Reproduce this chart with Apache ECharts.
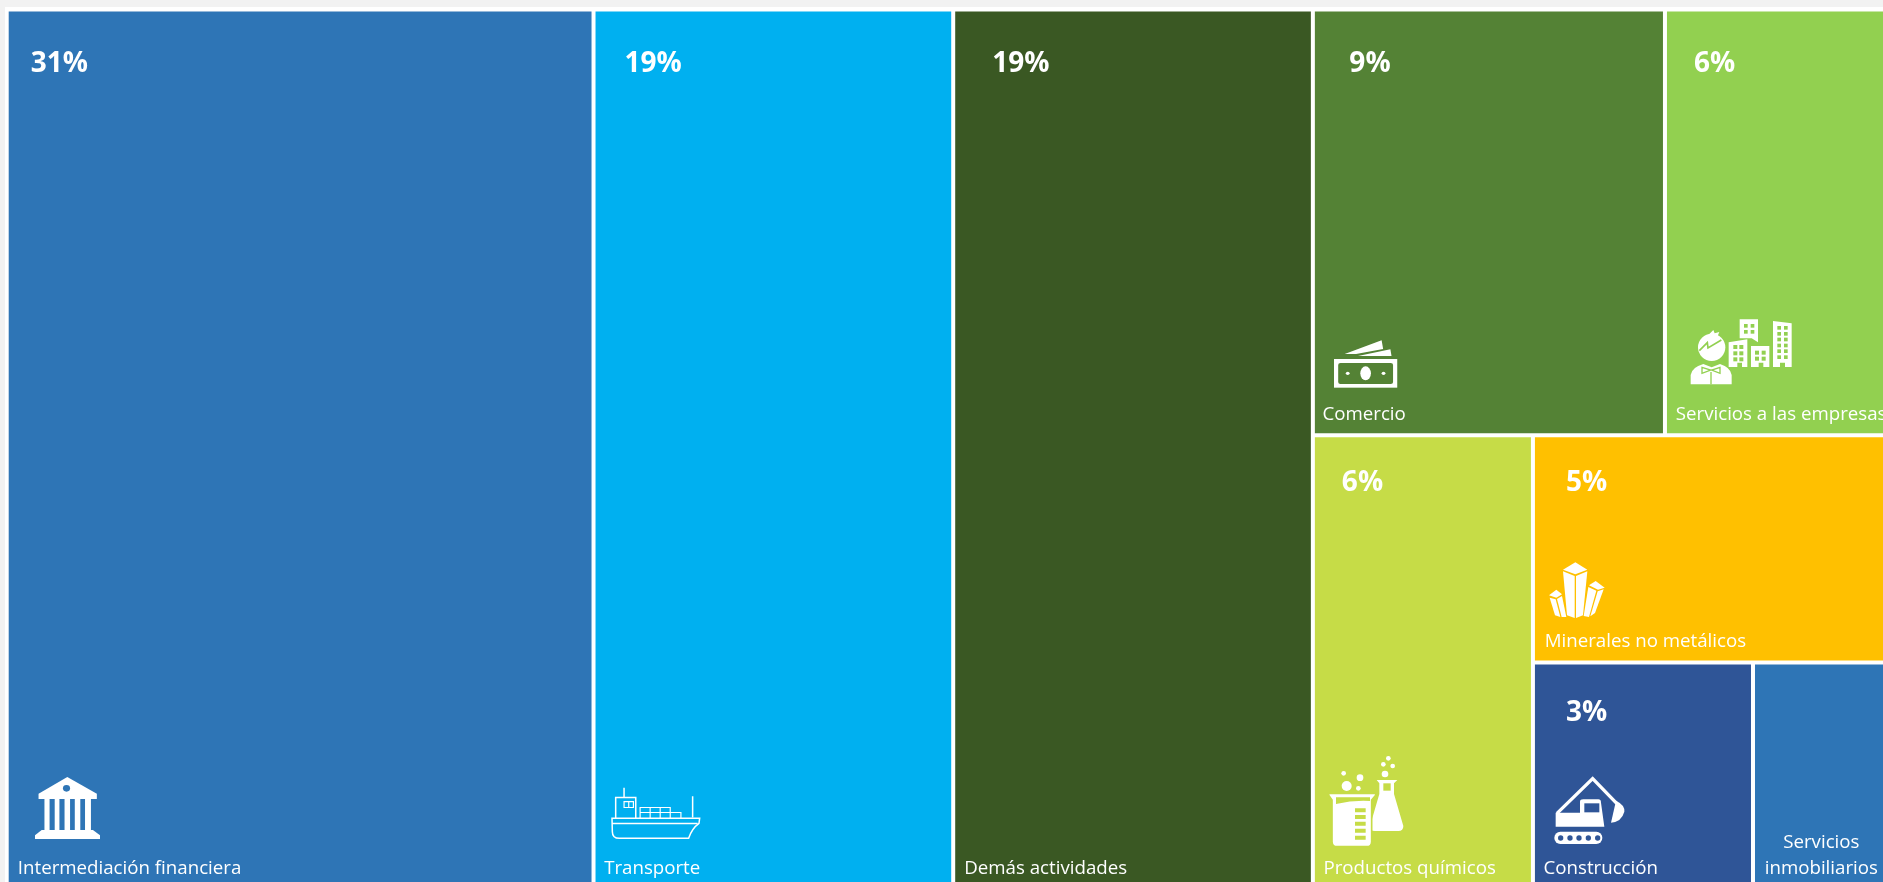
<!DOCTYPE html>
<html lang="es">
<head>
<meta charset="utf-8">
<title>Participación por actividad</title>
<script src="https://cdn.jsdelivr.net/npm/echarts@6/dist/echarts.min.js"></script>
<style>
  html, body { margin: 0; height: 100%; overflow: hidden; background: #f2f2f2; }
  #panel { position: absolute; left: 5px; top: 7px; right: 0; bottom: 0; background: #fff; }
  #chart { position: absolute; left: 0; top: 0; width: 1883px; height: 882px; }
</style>
</head>
<body>
<div id="panel"></div>
<div id="chart"></div>
<script>
// datos del treemap
const categories = [
  'Intermediación financiera', 'Transporte', 'Demás actividades', 'Comercio',
  'Servicios a las empresas', 'Productos químicos', 'Minerales no metálicos',
  'Construcción', 'Servicios\ninmobiliarios'
]
const shares = [31, 19, 19, 9, 6, 6, 5, 3, 2]
const shareLabels = ['31%', '19%', '19%', '9%', '6%', '6%', '5%', '3%', '']

// estilos por celda
const cellColors = ['#2E75B6', '#00B0F0', '#3A5823', '#548235', '#92D050', '#C6DC47', '#FFC000', '#2F5597', '#2E75B6']
const shareLabelPos = [[19, 35.5], [26, 35.5], [34, 35.5], [31.5, 35.5], [24, 35.5], [24, 28.5], [28, 28.5], [28, 31.5], [0, 0]]
const nameLabelDx = [-0.9, -1.4, -1, -2.4, -1.2, -1.4, -0.2, -1.4, -5]

const WHITE = '#fff'
const svgUrl = (viewBox, body) =>
  'data:image/svg+xml;charset=utf-8,' + encodeURIComponent(
    `<svg xmlns="http://www.w3.org/2000/svg" width="200" height="200" viewBox="${viewBox}" preserveAspectRatio="none">${body}</svg>`)

// iconos: cada uno dibujado en las coordenadas de su recorte
const iconBank = (c) => svgUrl('88 172 165 186', `
  <path fill="${WHITE}" d="M170 172L245 222V238H97V222Z"/>
  <ellipse fill="${c}" cx="168" cy="206" rx="9" ry="10"/>
  <path fill="${WHITE}" d="M112 238h13v95h-13zM138 238h12v95h-12zM163 238h14v95h-14zM189 238h14v95h-14zM215 238h15v95h-15z"/>
  <path fill="${WHITE}" d="M105 331H235L253 347V358H88V347Z"/>`)

const iconShip = () => svgUrl('150 80 272 160', `
  <g fill="none" stroke="${WHITE}" stroke-width="4.5">
    <path d="M156 174H418L416 190Q395 205 385 235H178Q157 235 157 215Z"/>
    <path d="M156 190H412M167 174V112H227V174M192 112V82M397 172V108"/>
    <path stroke-width="3.5" d="M192 124H220V142H192ZM206 124V142"/>
    <path stroke-width="3.5" d="M240 174V142H330V174M240 157H362V174M270 142V174M300 142V174M330 157V174"/>
  </g>`)

const iconMoney = (c) => svgUrl('117 180 168 144', `
  <path fill="${WHITE}" d="M145 222L242 181L246 207L175 222ZM180 228L265 208L268 228Z"/>
  <rect fill="${WHITE}" x="117" y="237" width="166" height="86"/>
  <rect fill="${c}" x="128" y="249" width="144" height="63" rx="6"/>
  <ellipse fill="${WHITE}" cx="200" cy="280" rx="14" ry="21"/>
  <circle fill="${WHITE}" cx="153" cy="280" r="5"/>
  <circle fill="${WHITE}" cx="247" cy="280" r="5"/>`)

const cityWindows = (xs, ys, s) => ys.map((y) => xs.map((x) => `<rect x="${x}" y="${y}" width="${s}" height="${s}"/>`).join('')).join('')
const iconCity = (c) => svgUrl('0 0 360 255', `
  <path fill="${WHITE}" d="M146 171V97L202 88V171H186V158H172V171Z"/>
  <path fill="${WHITE}" d="M179 28H234V97L215 85H179Z"/>
  <path fill="${WHITE}" d="M213 171V108H268V171H250V158H236V171Z"/>
  <path fill="${WHITE}" d="M279 33L335 40V171H315V158H300V171H279Z"/>
  <g fill="${c}">
    ${cityWindows([160, 178], [105, 124, 142], 12)}
    ${cityWindows([192, 212], [42, 60], 11)}
    ${cityWindows([225, 245], [122, 140], 12)}
    ${cityWindows([292, 312], [48, 66, 83, 101, 118, 136], 11)}
  </g>
  <circle fill="${WHITE}" cx="95" cy="112" r="41"/>
  <path fill="${WHITE}" d="M88 72L100 60L104 70L118 66L112 80Z"/>
  <path fill="none" stroke="${c}" stroke-width="5" d="M58 122L82 98L84 114L124 90"/>
  <path fill="${WHITE}" d="M32 223V195Q35 172 70 162L95 172L120 162Q152 172 155 195V223Z"/>
  <path fill="none" stroke="${c}" stroke-width="4" d="M93 186V223M66 172L92 180L66 190ZM120 172L95 180L120 190Z"/>`)

const iconFlask = (c) => svgUrl('0 0 300 315', `
  <g fill="${WHITE}">
    <circle cx="80" cy="108" r="15"/><circle cx="71" cy="70" r="7"/><circle cx="120" cy="83" r="10"/>
    <circle cx="115" cy="115" r="7"/><circle cx="195" cy="72" r="10"/><circle cx="190" cy="43" r="7"/>
    <circle cx="218" cy="48" r="7"/><circle cx="205" cy="25" r="7"/>
    <path d="M170 90H232L222 100V132L250 228Q250 243 235 243H165Q148 243 150 228L178 132V100Z"/>
  </g>
  <rect fill="${c}" x="190" y="100" width="22" height="22"/>
  <path fill="${WHITE}" stroke="${c}" stroke-width="5" d="M26 130H167V136L155 150V275Q155 290 140 290H52Q36 290 36 275V150L26 136Z"/>
  <path fill="${c}" d="M48 142H150V153Q100 150 48 162Z"/>
  <path fill="${c}" d="M105 175h32v12h-32zM105 195h32v12h-32zM105 215h32v12h-32zM105 236h32v12h-32zM105 257h32v12h-32z"/>`)

const iconCrystal = () => svgUrl('58 335 168 168', `
  <g fill="${WHITE}">
    <path d="M100 358L137 336L173 358L137 372Z"/>
    <path d="M100 363L135 377V503L112 495Z"/>
    <path d="M139 377L173 363L160 495L139 503Z"/>
    <path d="M58 435L80 418L97 432L80 442Z"/>
    <path d="M60 442L78 447L92 500L76 495Z"/>
    <path d="M82 446L97 437L110 500L96 500Z"/>
    <path d="M178 405L198 392L225 412L205 418Z"/>
    <path d="M176 410L200 421L178 500L162 497Z"/>
    <path d="M204 423L222 417L196 488L182 498Z"/>
  </g>`)

const iconExcavator = (c) => svgUrl('0 0 270 255', `
  <path fill="none" stroke="${WHITE}" stroke-width="10" d="M36 130L143 26L215 100"/>
  <path fill="${WHITE}" d="M213 92Q240 105 238 125Q230 155 198 158Z"/>
  <path fill="${WHITE}" d="M32 128H105V95Q105 88 115 88H160Q168 88 168 98L178 170H32Z"/>
  <rect fill="${c}" x="118" y="100" width="45" height="27"/>
  <rect fill="${WHITE}" x="28" y="185" width="144" height="37" rx="18"/>
  <g fill="${c}"><circle cx="47" cy="204" r="8"/><circle cx="75" cy="204" r="8"/><circle cx="102" cy="204" r="8"/><circle cx="130" cy="204" r="8"/><circle cx="158" cy="204" r="8"/></g>`)

const icon = (image, x, y, width, height) => ({ type: 'image', x, y, z: 100, silent: true, style: { image, x: 0, y: 0, width, height } })

const icons = [
  icon(iconBank(cellColors[0]), 35, 777, 65, 62),
  icon(iconShip(), 610, 787, 91, 53),
  icon(iconMoney(cellColors[3]), 1334, 340, 64, 48),
  icon(iconCity(cellColors[4]), 1680, 310, 120, 85),
  icon(iconFlask(cellColors[5]), 1320, 750, 100, 105),
  icon(iconCrystal(), 1549, 562, 56, 56),
  icon(iconExcavator(cellColors[7]), 1545, 770, 90, 85),
]

// el orden de anidado fija el reparto de filas y columnas
const buildTree = (leaf) => [
  leaf(0),
  leaf(1),
  leaf(2),
  { name: 'resto', children: [
    { name: 'arriba', children: [leaf(3), leaf(4)] },
    { name: 'abajo', children: [
      leaf(5),
      { name: 'derecha', children: [
        leaf(6),
        { name: 'base', children: [leaf(7), leaf(8)] },
      ] },
    ] },
  ] },
]

const cellLeaf = (i) => ({
  name: categories[i],
  value: shares[i],
  itemStyle: { color: cellColors[i], borderColor: WHITE, borderWidth: 2 },
  label: categories[i].includes('\n')
    ? { position: 'insideBottom', align: 'center', lineHeight: 26, distance: 1, offset: [nameLabelDx[i], 0] }
    : { offset: [nameLabelDx[i], 1] },
})

const shareLeaf = (i) => ({
  name: shareLabels[i],
  value: shares[i],
  itemStyle: { color: 'transparent', borderColor: 'transparent', borderWidth: 0 },
  label: { position: shareLabelPos[i] },
})

const baseSeries = {
  type: 'treemap',
  left: 6.7,
  top: 9.5,
  width: 1893,
  height: 880,
  sort: false,
  squareRatio: 0.5,
  roam: false,
  nodeClick: false,
  silent: true,
  animation: false,
  breadcrumb: { show: false },
}

const option = {
  animation: false,
  graphic: { elements: icons },
  series: [
    {
      ...baseSeries,
      name: 'Actividades',
      data: buildTree(cellLeaf),
      label: {
        show: true,
        position: 'insideBottomLeft',
        distance: 5,
        color: '#fff',
        fontFamily: 'Open Sans',
        fontSize: 18.7,
        overflow: 'none',
        formatter: '{b}',
      },
    },
    {
      ...baseSeries,
      name: 'Participación',
      data: buildTree(shareLeaf),
      itemStyle: { color: 'transparent', borderColor: 'transparent', borderWidth: 0 },
      label: {
        show: true,
        color: '#fff',
        fontFamily: 'Open Sans',
        fontWeight: 'bold',
        fontSize: 28,
        overflow: 'none',
        formatter: '{b}',
      },
    },
  ],
}

const chart = echarts.init(document.getElementById('chart'))
chart.setOption(option)
</script>
</body>
</html>
